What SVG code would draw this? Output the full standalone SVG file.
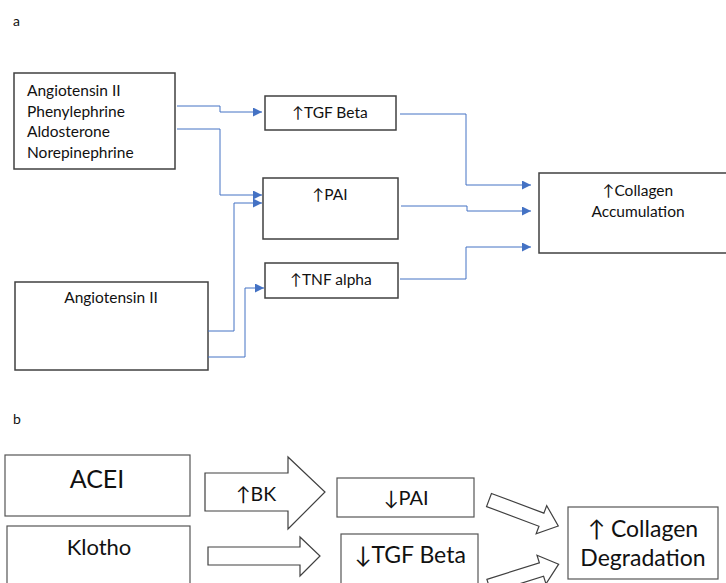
<svg xmlns="http://www.w3.org/2000/svg" width="726" height="583" viewBox="0 0 726 583">
<style>
  text { font-family: Lato, "Open Sans", "DejaVu Sans", sans-serif; fill: #111111; }
  .box { fill: #ffffff; stroke: #404040; stroke-width: 1.5; }
  .boxb { fill: #ffffff; stroke: #555555; stroke-width: 1.2; }
  .conn { fill: none; stroke: #4472C4; stroke-width: 1; }
  .blk { fill: #ffffff; stroke: #404040; stroke-width: 1.2; stroke-linejoin: miter; }
  .s { font-size: 15.5px; }
  .m { font-size: 20px; }
  .l { font-size: 23px; }
</style>
<defs>
  <marker id="ah" viewBox="0 0 10 10" refX="10" refY="5" markerWidth="9" markerHeight="9" markerUnits="userSpaceOnUse" orient="auto">
    <path d="M0,0 L10,5 L0,10 z" fill="#4472C4"/>
  </marker>
</defs>
<rect width="726" height="583" fill="#ffffff"/>

<text x="13" y="26" font-size="14">a</text>
<text x="13" y="424" font-size="14">b</text>

<g id="src1">
  <rect class="box" x="14" y="73" width="161" height="96"/>
  <text x="27" y="96" class="s">Angiotensin II</text>
  <text x="27" y="117" class="s">Phenylephrine</text>
  <text x="27" y="137" class="s">Aldosterone</text>
  <text x="27" y="158" class="s">Norepinephrine</text>
</g>
<g id="tgf">
  <rect class="box" x="265" y="96" width="131" height="34"/>
  <text x="330" y="118" class="s" text-anchor="middle">↑TGF Beta</text>
</g>
<g id="pai">
  <rect class="box" x="263" y="178" width="135" height="61"/>
  <text x="330" y="200" class="s" text-anchor="middle">↑PAI</text>
</g>
<g id="tnf">
  <rect class="box" x="265" y="263" width="133" height="35"/>
  <text x="331" y="285" class="s" text-anchor="middle">↑TNF alpha</text>
</g>
<g id="collagenA">
  <rect class="box" x="539" y="173" width="200" height="80"/>
  <text x="638" y="196" class="s" text-anchor="middle">↑Collagen</text>
  <text x="638" y="217" class="s" text-anchor="middle">Accumulation</text>
</g>
<g id="src2">
  <rect class="box" x="15" y="282" width="193" height="88"/>
  <text x="111" y="303" class="s" text-anchor="middle">Angiotensin II</text>
</g>

<g id="connectors">
  <path class="conn" d="M177,106 H220 V112 H262" marker-end="url(#ah)"/>
  <path class="conn" d="M177,129 H220 V195 H262" marker-end="url(#ah)"/>
  <path class="conn" d="M208,331 H234 V203 H262" marker-end="url(#ah)"/>
  <path class="conn" d="M208,357 H245 V288 H264" marker-end="url(#ah)"/>
  <path class="conn" d="M400,114 H466 V185 H531" marker-end="url(#ah)"/>
  <path class="conn" d="M401,206 H467 V211 H531" marker-end="url(#ah)"/>
  <path class="conn" d="M400,279 H466 V247 H531" marker-end="url(#ah)"/>
</g>

<g id="acei">
  <rect class="boxb" x="5" y="455" width="185" height="61"/>
  <text x="97" y="488" text-anchor="middle" font-size="25">ACEI</text>
</g>
<g id="klotho">
  <rect class="boxb" x="7" y="526" width="183" height="70"/>
  <text x="99" y="555" text-anchor="middle" font-size="22">Klotho</text>
</g>
<g id="paiB">
  <rect class="boxb" x="337" y="478" width="137" height="39"/>
  <text x="406" y="505" class="m" text-anchor="middle">↓PAI</text>
</g>
<g id="tgfB">
  <rect class="boxb" x="341" y="534" width="137" height="60"/>
  <text x="410" y="563" class="l" text-anchor="middle">↓TGF Beta</text>
</g>
<g id="collagenB">
  <rect class="boxb" x="568" y="507" width="150" height="72"/>
  <text x="643" y="537" class="l" text-anchor="middle">↑ Collagen</text>
  <text x="643" y="566" class="l" text-anchor="middle">Degradation</text>
</g>

<g id="block-arrows">
  <g id="bk">
    <polygon class="blk" points="205,473 288,473 288,457 325,492 288,529 288,511 205,511"/>
    <text x="256" y="501" text-anchor="middle" font-size="19.5">↑BK</text>
  </g>
  <polygon class="blk" points="208,547 300,547 300,537 320,556 300,576 300,565 208,565"/>
  <polygon class="blk" transform="translate(489,500) rotate(20.6)" points="0,-7 56,-7 56,-15 74,0 56,15 56,7 0,7"/>
  <polygon class="blk" transform="translate(489,586) rotate(-17.4)" points="0,-7 55,-7 55,-15 73,0 55,15 55,7 0,7"/>
</g>
</svg>
